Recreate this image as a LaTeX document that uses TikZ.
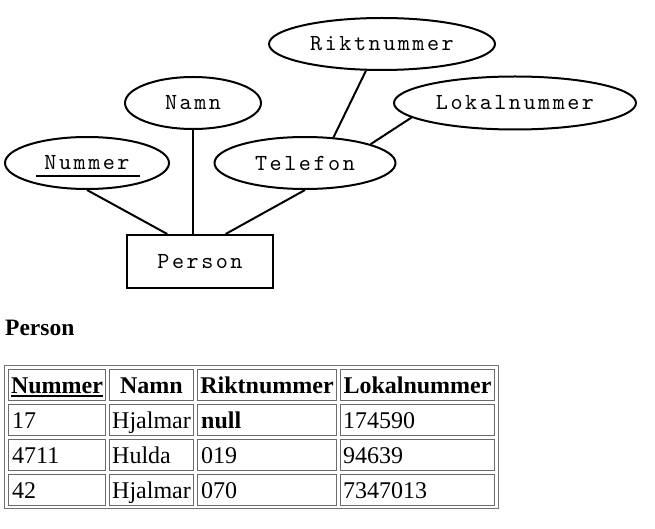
\documentclass[tikz,border=0pt]{standalone}
\usepackage{fontspec}
\setmainfont{Liberation Serif}
\newfontfamily\erfont{lmmono10-regular}[Extension=.otf, LetterSpace=11]
\usetikzlibrary{shapes.geometric}
\definecolor{cellgray}{gray}{0.42}
\definecolor{outergray}{gray}{0.45}
\begin{document}
\begin{tikzpicture}[x=1pt,y=-1pt,
  attr/.style={ellipse, draw, line width=2pt, inner sep=0pt, font=\erfont\fontsize{23}{23}\selectfont},
  ent/.style={rectangle, draw, line width=2pt, inner sep=0pt, font=\erfont\fontsize{23}{23}\selectfont},
  conn/.style={line width=2pt},
  cell/.style={draw=cellgray, line width=1pt},
  txt/.style={inner sep=0pt, anchor=base west, font=\fontsize{24}{24}\selectfont},
  htxt/.style={inner sep=0pt, anchor=base, font=\fontsize{24}{24}\selectfont\bfseries}]
\useasboundingbox (0,0) rectangle (655,529);
% ER diagram
\node[attr, minimum width=164pt, minimum height=52pt] (nummer) at (87,163) {Nummer};
\node[attr, minimum width=136pt, minimum height=52pt] (namn) at (193,103) {Namn};
\node[attr, minimum width=181pt, minimum height=52pt] (telefon) at (305,163) {Telefon};
\node[attr, minimum width=226pt, minimum height=52pt] (rikt) at (382,44) {Riktnummer};
\node[attr, minimum width=242pt, minimum height=53pt] (lokal) at (515,103) {Lokalnummer};
\node[ent, minimum width=146pt, minimum height=53pt] (person) at (200,261.5) {Person};
\draw[line width=2.5pt] ([xshift=-51pt,yshift=-13pt]nummer.center) -- ([xshift=53pt,yshift=-13pt]nummer.center);
\draw[conn] (nummer.south) -- (person.140);
\draw[conn] (namn.south) -- (namn.south |- person.north);
\draw[conn] (telefon.south) -- (person.47);
\draw[conn] (rikt.239) -- (telefon.42);
\draw[conn] (lokal.188) -- (telefon.16);
% Heading
\node[inner sep=0pt, anchor=base west, font=\fontsize{23.5}{23.5}\selectfont\bfseries] (heading) at (5,335) {Person};
% Table
\draw[draw=outergray, line width=1pt] (4.5,365.5) rectangle (498.5,508.5);
\foreach \xa/\xb in {8.5/105.5, 109.5/193.5, 197.5/336.5, 340.5/494.5}{
  \foreach \ya/\yb in {369.5/400.5, 404.5/435.5, 439.5/470.5, 474.5/505.5}{
    \draw[cell] (\xa,\ya) rectangle (\xb,\yb);
  }
}
\node[htxt] (h1) at (57,393) {Nummer};
\node[htxt] (h2) at (151.5,393) {Namn};
\node[htxt] (h3) at (267,393) {Riktnummer};
\node[htxt] (h4) at (417.5,393) {Lokalnummer};
\draw[line width=2pt] ([yshift=-2.5pt]h1.base west) -- ([yshift=-2.5pt]h1.base east);
\node[txt] (a1) at (12,428) {17};
\node[txt] (a2) at (112,428) {Hjalmar};
\node[txt, font=\fontsize{24}{24}\selectfont\bfseries] (a3) at (201,428) {null};
\node[txt] (a4) at (343,428) {174590};
\node[txt] (b1) at (12,463) {4711};
\node[txt] (b2) at (112,463) {Hulda};
\node[txt] (b3) at (201,463) {019};
\node[txt] (b4) at (343,463) {94639};
\node[txt] (c1) at (12,498) {42};
\node[txt] (c2) at (112,498) {Hjalmar};
\node[txt] (c3) at (201,498) {070};
\node[txt] (c4) at (343,498) {7347013};
\end{tikzpicture}
\end{document}
